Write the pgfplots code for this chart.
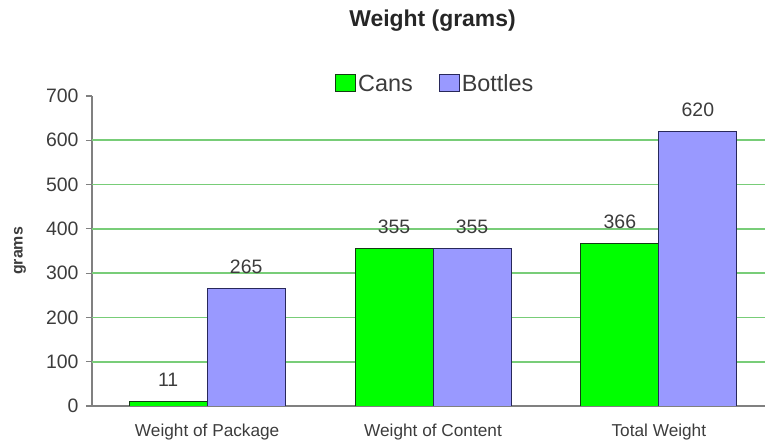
\documentclass[border=0pt]{standalone}
\usepackage{fontspec}
\setmainfont{Liberation Sans}
\usepackage{pgfplots}
\pgfplotsset{compat=1.18}

\definecolor{cangreen}{RGB}{0,255,0}
\definecolor{canedge}{RGB}{20,60,20}
\definecolor{botblue}{RGB}{153,153,255}
\definecolor{botedge}{RGB}{40,40,90}
\definecolor{gridgreen}{RGB}{120,205,120}
\definecolor{axgray}{RGB}{128,128,128}
\definecolor{labgray}{RGB}{60,60,60}

\begin{document}
\begin{tikzpicture}
\path[use as bounding box] (-92bp,-36bp) rectangle (673bp,406bp);
\begin{axis}[
    at={(0,0)}, anchor=south west,
    scale only axis, width=673bp, height=310bp,
    xmin=-0.51, xmax=2.47, ymin=0, ymax=700,
    ybar=0pt, bar width=78bp,
    axis lines=left,
    axis line style={-, draw=axgray, line width=1.3bp},
    ytick={0,100,...,700},
    tick align=outside, major tick length=6bp,
    ytick style={draw=axgray, line width=1.2bp},
    xtick={0,1,2},
    xticklabels={Weight of Package, Weight of Content, Total Weight},
    xtick style={draw=none},
    extra y ticks={100,200,...,600},
    extra y tick labels={},
    extra y tick style={ymajorgrids=true, major tick length=0pt,
        ytick style={draw=gridgreen},
        major grid style={draw=gridgreen, line width=1.8bp}},
    yticklabel style={font=\fontsize{19.5}{22}\selectfont, color=labgray,
        xshift=-4bp},
    xticklabel style={font=\fontsize{17.3}{20}\selectfont, color=labgray,
        yshift=-8bp},
    /pgf/number format/assume math mode=true,
    ylabel={grams},
    ylabel style={at={(axis description cs:-0.107,0.5)}, anchor=center,
        font=\bfseries\fontsize{16}{19}\selectfont, color=labgray},
    title={Weight (grams)},
    title style={at={(axis description cs:0.506,1.225)}, anchor=center,
        font=\bfseries\fontsize{23}{27}\selectfont, color=black!85},
    legend style={at={(axis description cs:0.51,1.04)}, anchor=center,
        draw=none, fill=none, legend columns=2,
        font=\fontsize{23.5}{27}\selectfont, text=labgray,
        /tikz/every even column/.append style={column sep=24bp}},
    legend image code/.code={\draw[#1] (0bp,-8bp) rectangle (20bp,9bp);},
    nodes near coords,
    every node near coord/.append style={font=\fontsize{19.5}{22}\selectfont,
        color=labgray, yshift=11bp},
]
\addplot[fill=cangreen, draw=canedge, line width=1bp]
    coordinates {(0,11) (1,355) (2,366)};
\addplot[fill=botblue, draw=botedge, line width=1bp]
    coordinates {(0,265) (1,355) (2,620)};
\legend{Cans, Bottles}
\end{axis}
\end{tikzpicture}
\end{document}
